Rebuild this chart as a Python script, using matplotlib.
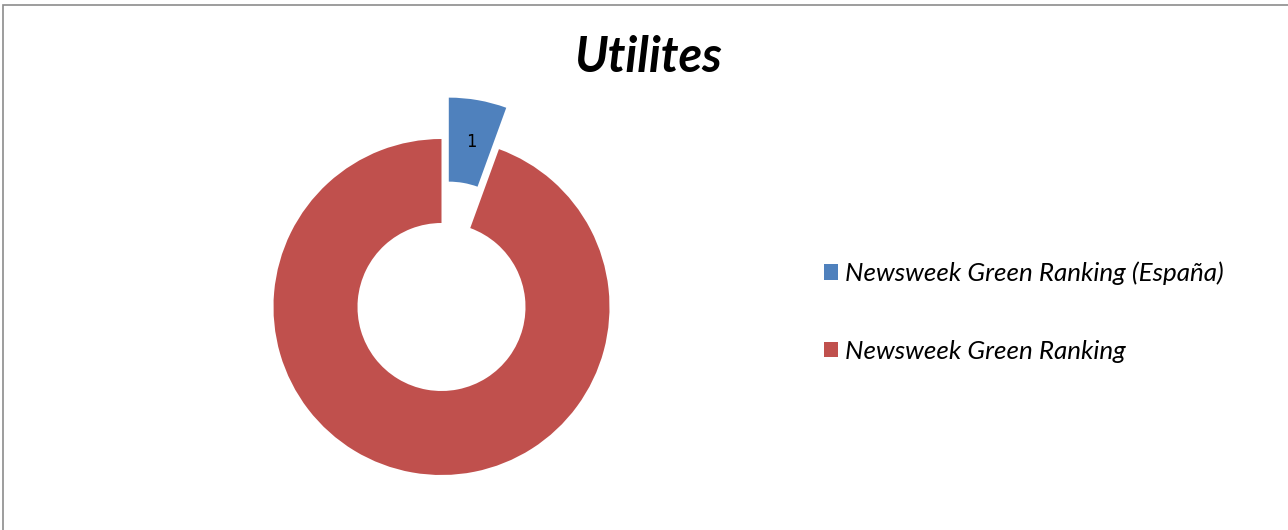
import matplotlib.pyplot as plt
from matplotlib.patches import Rectangle

title = "Utilites"
labels = ["Newsweek Green Ranking (España)", "Newsweek Green Ranking"]
values = [1, 17]
colors = ["#4F81BD", "#C0504D"]
explode = [0.25, 0]
shown_labels = [True, False]

W, H = 1288, 530
cx, cy, R = 441.5, 307, 168  # donut centre and radius in pixels

fig = plt.figure(figsize=(W / 100, H / 100), dpi=100)
ax = fig.add_axes([0, 0, 1, 1])

total = sum(values)


def fmt(p):
    v = int(round(p * total / 100))
    return str(v) if v == values[0] and shown_labels[0] else ""


wedges, texts, autotexts = ax.pie(
    values, colors=colors, explode=explode, startangle=90, counterclock=False,
    radius=1, wedgeprops=dict(width=0.5, linewidth=0), autopct=fmt,
    pctdistance=0.75, textprops=dict(fontsize=12, family="DejaVu Sans Mono", color="black"))

ax.set_xlim(-cx / R, (W - cx) / R)
ax.set_ylim((cy - H) / R, cy / R)
ax.set_aspect("auto")
ax.axis("off")

fig.text(648 / W, 1 - 57 / H, title, ha="center", va="center", fontsize=35,
         fontweight="bold", fontstyle="italic", family="Lato")

leg = fig.legend(wedges, labels, loc="center left", bbox_to_anchor=(824 / W, 1 - 312 / H),
                 frameon=False, prop=dict(family="Lato", style="italic", size=18.7),
                 borderpad=0, borderaxespad=0,
                 handlelength=0.54, handleheight=0.54, handletextpad=0.27, labelspacing=2.1)

fig.patches.append(Rectangle((2.5 / W, -0.1), 1.2, 1 - 5 / H + 0.1, transform=fig.transFigure,
                             fill=False, edgecolor="#8c8c8c", linewidth=1.2))

fig.savefig("out.png", dpi=100)
